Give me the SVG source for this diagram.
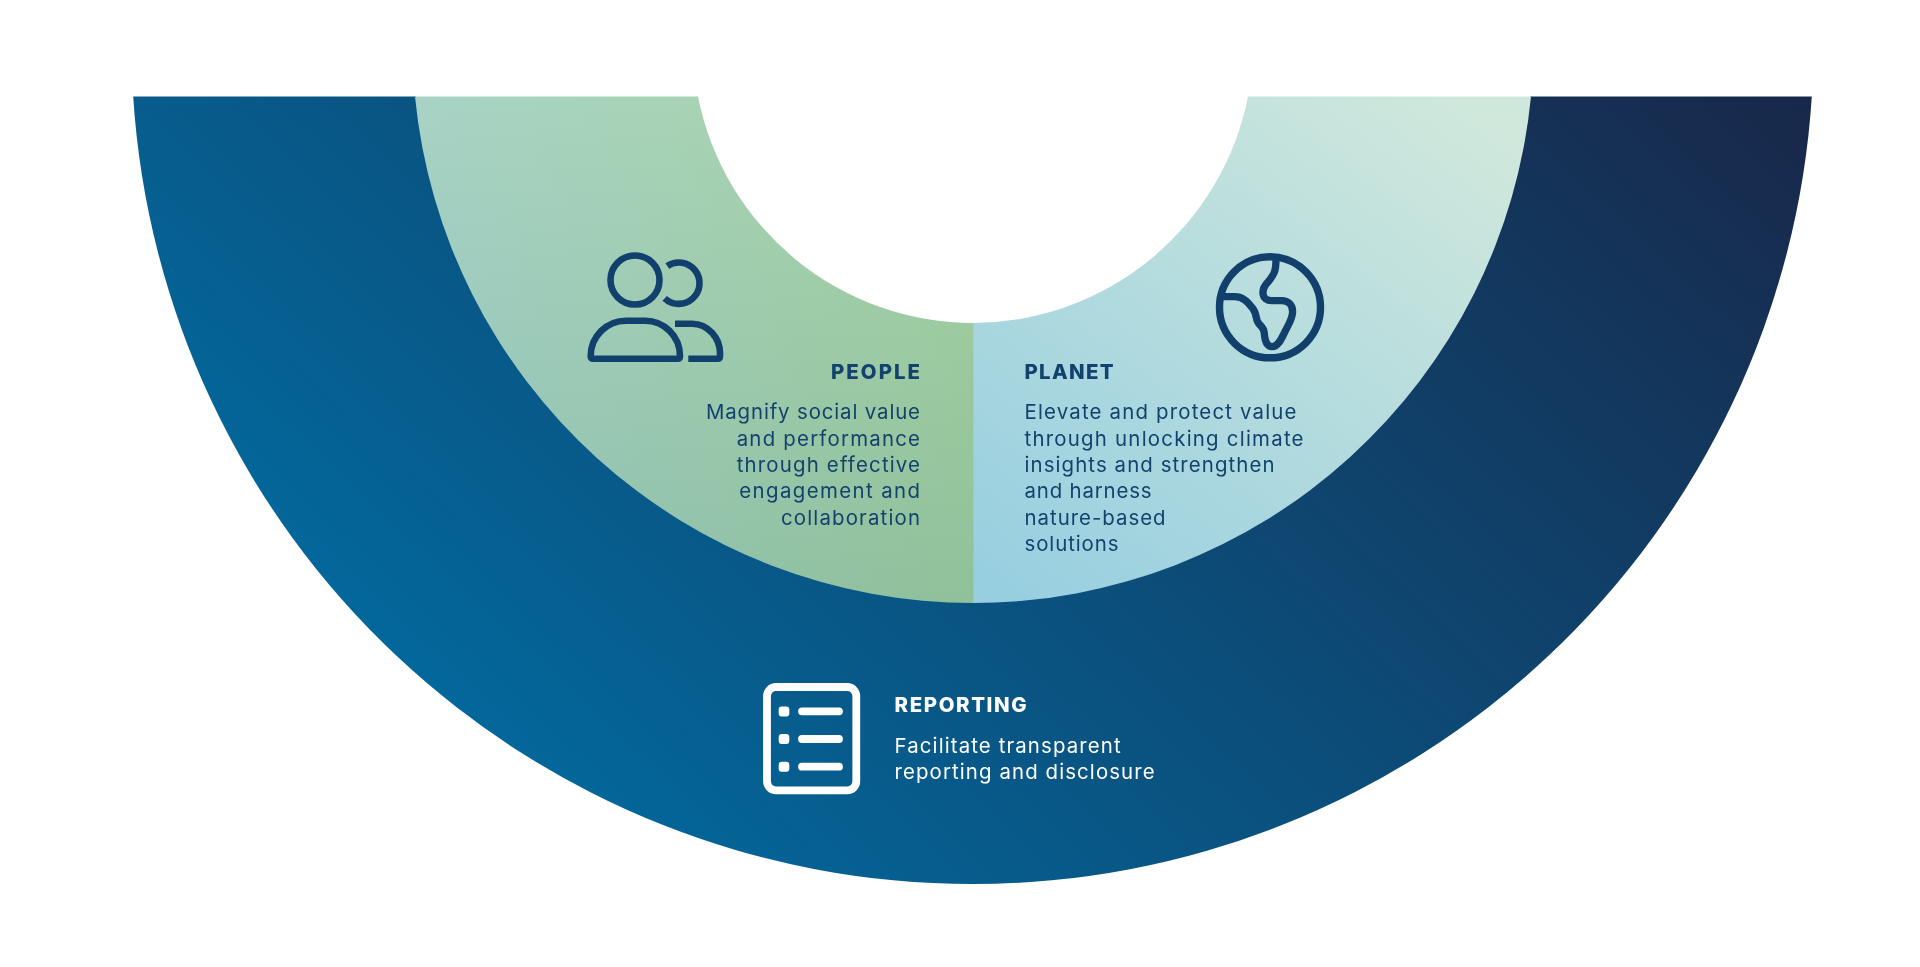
<svg xmlns="http://www.w3.org/2000/svg" width="1920" height="967" viewBox="0 0 1920 967">
<style>
text{font-family:"Inter","Liberation Sans",sans-serif;font-size:20.4px;fill:#12426d}
.h{font-weight:800;font-size:20.4px}
.e{text-anchor:end}
.w{fill:#fff}
.i{fill:none;stroke:#12406c;stroke-width:6.6;stroke-linejoin:round}
.r{fill:none;stroke:#fff;stroke-width:7.8}
</style>
<defs>
<linearGradient id="gO" gradientUnits="userSpaceOnUse" x1="430" y1="720" x2="1377" y2="-297">
<stop offset="0" stop-color="#03689c"/><stop offset="1" stop-color="#18284a"/></linearGradient>
<linearGradient id="gP" gradientUnits="userSpaceOnUse" x1="0" y1="96" x2="0" y2="603">
<stop offset="0" stop-color="#a8d3ff"/><stop offset="1" stop-color="#90c1f0"/></linearGradient>
<linearGradient id="gP2" gradientUnits="userSpaceOnUse" x1="415" y1="0" x2="973" y2="0">
<stop offset="0" stop-color="#ffffc6"/><stop offset="1" stop-color="#ffffa3"/></linearGradient>
<linearGradient id="gL" gradientUnits="userSpaceOnUse" x1="1050" y1="620" x2="1450" y2="90">
<stop offset="0" stop-color="#98cfe0"/><stop offset="1" stop-color="#d0e8dc"/></linearGradient>
</defs>
<rect width="1920" height="967" fill="#fff"/>
<g id="band-reporting"><path fill="url(#gO)" d="M133.2 96.5H416A560 560 0 0 0 1530 96.5H1811.8A841 841 0 0 1 133.2 96.5Z"/></g>
<g id="band-people"><path fill="url(#gP)" d="M415 96.5H698A281 281 0 0 0 974.5 323V603A561 561 0 0 1 415 96.5Z"/><path fill="url(#gP2)" style="mix-blend-mode:multiply" d="M415 96.5H698A281 281 0 0 0 974.5 323V603A561 561 0 0 1 415 96.5Z"/></g>
<g id="band-planet"><path fill="url(#gL)" d="M1531 96.5H1248A281 281 0 0 1 973.5 323V603A561 561 0 0 0 1531 96.5Z"/></g>
<g id="node-people">
<circle class="i" cx="635" cy="280" r="24.5"/>
<path class="i" d="M667.3 266A20.7 20.7 0 1 1 664.7 298.3"/>
<path class="i" d="M593.5 358.7H677.5Q680 358.7 680 356C680 336 664 320.7 645 320.7H626C607 320.7 590.7 336 590.7 356Q590.7 358.7 593.5 358.7Z"/>
<path class="i" d="M675 323.7H692C708 323.7 720 338 720 353V356Q720 358.7 717.5 358.7H688.3"/>
<text class="h e" x="920" y="379" textLength="89">PEOPLE</text>
<text class="e" x="920" y="419.3" textLength="214">Magnify social value</text>
<text class="e" x="920" y="445.6" textLength="183.3">and performance</text>
<text class="e" x="920" y="471.9" textLength="183.3">through effective</text>
<text class="e" x="920" y="498.2" textLength="180.7">engagement and</text>
<text class="e" x="920" y="524.5" textLength="139">collaboration</text>
</g>
<g id="node-planet">
<circle class="i" style="stroke-width:7.4" cx="1270" cy="307.3" r="50.5"/>
<g transform="translate(960 230) scale(.3333)"><path class="i" style="stroke-width:22" d="M785 200H825C850 200 865 218 878 235C890 250 888 268 893 275C900 290 912 290 913 310C914 325 918 350 937 350C955 350 965 325 975 305C985 285 998 265 998 245C998 225 985 212 965 212H935C905 212 900 180 925 155C945 130 948 120 948 88"/></g>
<text class="h" x="1024.5" y="379" textLength="89">PLANET</text>
<text x="1024.5" y="419.3" textLength="272">Elevate and protect value</text>
<text x="1024.5" y="445.6" textLength="279">through unlocking climate</text>
<text x="1024.5" y="471.9" textLength="250">insights and strengthen</text>
<text x="1024.5" y="498.2" textLength="127">and harness</text>
<text x="1024.5" y="524.5" textLength="141">nature-based</text>
<text x="1024.5" y="550.8" textLength="94">solutions</text>
</g>
<g id="node-reporting">
<rect class="r" x="767" y="687" width="89.3" height="103.3" rx="9"/>
<g fill="#fff"><rect x="778.7" y="706.5" width="10.6" height="10" rx="3"/><rect x="778.7" y="734" width="10.6" height="10" rx="3"/><rect x="778.7" y="761.7" width="10.6" height="10" rx="3"/></g>
<path class="r" stroke-linecap="round" d="M802 711.3H839M802 739H839M802 766.7H839"/>
<text class="h w" x="894.6" y="712.3" textLength="132">REPORTING</text>
<text class="w" x="894.6" y="752.7" textLength="226">Facilitate transparent</text>
<text class="w" x="894.6" y="778.5" textLength="260">reporting and disclosure</text>
</g>
<g id="connectors"/>
</svg>
